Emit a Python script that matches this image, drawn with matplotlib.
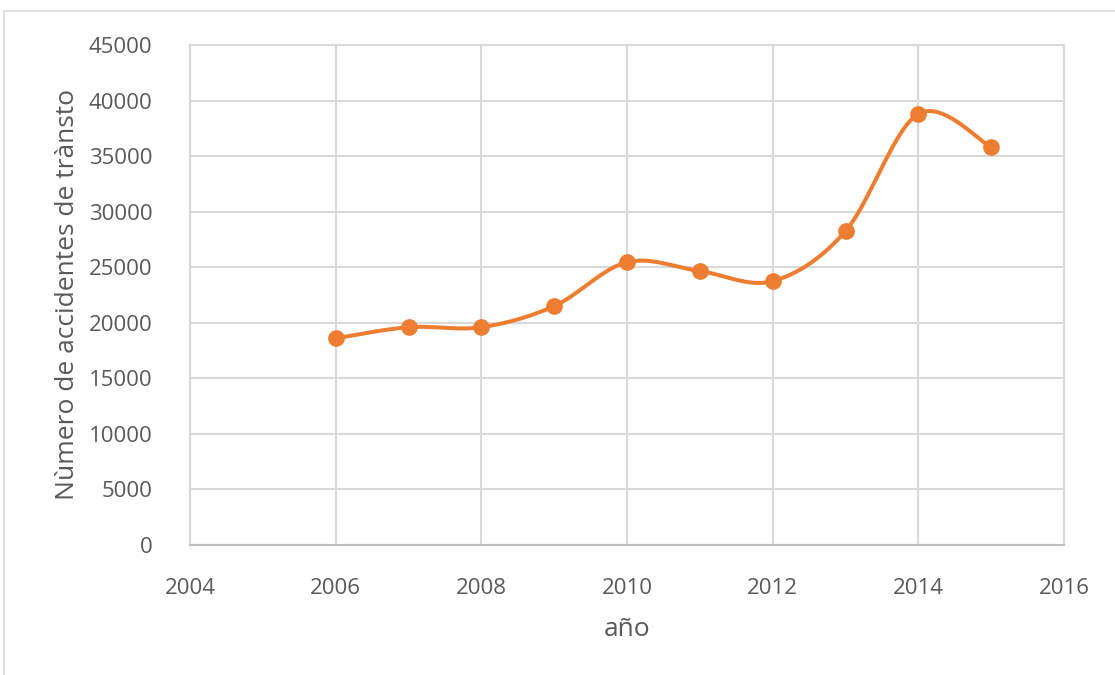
import matplotlib
matplotlib.use("Agg")
import matplotlib.pyplot as plt
from matplotlib.patches import Rectangle
import numpy as np

# Accidentes de tránsito por año
years = [2006, 2007, 2008, 2009, 2010, 2011, 2012, 2013, 2014, 2015]
accidents = [18600, 19600, 19600, 21500, 25450, 24650, 23750, 28250, 38800, 35800]

x_ticks = [2004, 2006, 2008, 2010, 2012, 2014, 2016]
y_ticks = list(range(0, 45001, 5000))

plt.rcParams['font.family'] = ['Open Sans', 'DejaVu Sans']

text_color = "#595959"
grid_color = "#d9d9d9"
line_color = "#ED7D31"


def smooth_curve(xs, ys, steps=40):
    # Bezier segments with Catmull-Rom style control points
    px = [xs[0]] + list(xs) + [xs[-1]]
    py = [ys[0]] + list(ys) + [ys[-1]]
    out_x, out_y = [], []
    t = np.linspace(0, 1, steps)
    for i in range(1, len(px) - 2):
        p0 = np.array([px[i], py[i]], dtype=float)
        p3 = np.array([px[i + 1], py[i + 1]], dtype=float)
        c1 = p0 + (np.array([px[i + 1], py[i + 1]]) - np.array([px[i - 1], py[i - 1]])) / 6.0
        c2 = p3 - (np.array([px[i + 2], py[i + 2]]) - np.array([px[i], py[i]])) / 6.0
        b = ((1 - t) ** 3)[:, None] * p0 + (3 * (1 - t) ** 2 * t)[:, None] * c1 \
            + (3 * (1 - t) * t ** 2)[:, None] * c2 + (t ** 3)[:, None] * p3
        out_x.extend(b[:, 0])
        out_y.extend(b[:, 1])
    return out_x, out_y


fig = plt.figure(figsize=(11.15, 6.75), dpi=100)
ax = fig.add_axes([190 / 1115, 130 / 675, 874 / 1115, 500 / 675])

# chart frame
fig.patches.append(Rectangle((4 / 1115, -0.1), 1.2, (675 - 11) / 675 + 0.1,
                             transform=fig.transFigure, fill=False,
                             edgecolor="#d9d9d9", linewidth=1.2))

sx, sy = smooth_curve(years, accidents)
ax.plot(sx, sy, color=line_color, linewidth=2.9, solid_capstyle="round", zorder=3)
ax.plot(years, accidents, "o", color=line_color, markersize=11, zorder=4)

ax.set_xlim(2004, 2016)
ax.set_ylim(0, 45000)
ax.set_xticks(x_ticks)
ax.set_yticks(y_ticks)
ax.grid(True, color=grid_color, linewidth=1.5)
ax.set_axisbelow(True)
for side in ["top", "right", "left"]:
    ax.spines[side].set_color(grid_color)
    ax.spines[side].set_linewidth(1.5)
ax.spines["bottom"].set_color("#bfbfbf")
ax.spines["bottom"].set_linewidth(1.5)

ax.tick_params(length=0, labelsize=16, colors=text_color)
ax.tick_params(axis="y", pad=27)
ax.tick_params(axis="x", pad=24)

ax.set_xlabel("año", fontsize=19, color=text_color)
ax.set_ylabel("Nùmero de accidentes de trànsto", fontsize=19, color=text_color)
ax.xaxis.set_label_coords(0.5, (545 - 629) / 500)
ax.yaxis.set_label_coords((68 - 190) / 874, 0.5)
ax.xaxis.label.set_va("center")
ax.yaxis.label.set_va("center")

fig.savefig("out.png", dpi=100)
